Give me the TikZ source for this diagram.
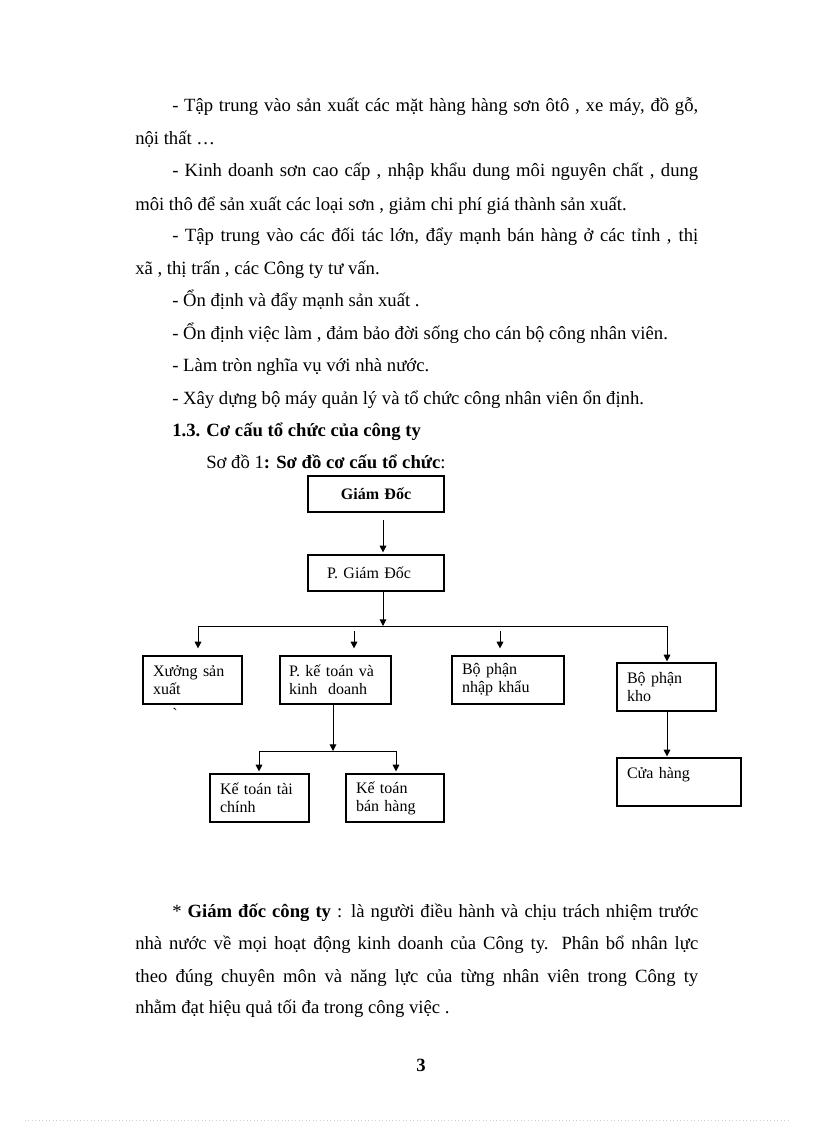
\documentclass[tikz,border=0pt]{standalone}
\usepackage{fontspec}
\setmainfont{Liberation Serif}
\usetikzlibrary{arrows.meta}
\tikzset{
  body/.style={anchor=base west, inner sep=0pt, font=\fontsize{14}{16}\selectfont},
  box/.style={draw, line width=0.9pt, inner ysep=0pt, font=\fontsize{12}{13.5}\selectfont, align=left},
  arr/.style={line width=0.75pt, -{Triangle[length=5pt,width=5pt]}},
  ln/.style={line width=0.75pt},
}
\begin{document}
\begin{tikzpicture}[x=0.75pt,y=-0.75pt]
\useasboundingbox (0,0) rectangle (816,1123);
% ---------- text above ----------
\node[body] (l1) at (172,112) {\hbox to 394.5pt{- Tập trung vào sản xuất các mặt hàng hàng sơn ôtô , xe máy, đồ gỗ,}};
\node[body] (l2) at (135,145) {nội thất …};
\node[body] (l3) at (172,177) {\hbox to 394.5pt{- Kinh doanh sơn cao cấp , nhập khẩu dung môi nguyên chất , dung}};
\node[body] (l4) at (135,210) {môi thô để sản xuất các loại sơn , giảm chi phí giá thành sản xuất.};
\node[body] (l5) at (172,242) {\hbox to 394.5pt{- Tập trung vào các đối tác lớn, đẩy mạnh bán hàng ở các tỉnh , thị}};
\node[body] (l6) at (135,274) {xã , thị trấn , các Công ty tư vấn.};
\node[body] (l7) at (172,306) {- Ổn định và đẩy mạnh sản xuất .};
\node[body] (l8) at (172,339) {- Ổn định việc làm , đảm bảo đời sống cho cán bộ công nhân viên.};
\node[body] (l9) at (172,371) {- Làm tròn nghĩa vụ với nhà nước.};
\node[body] (l10) at (172,404) {- Xây dựng bộ máy quản lý và tổ chức công nhân viên ổn định.};
\node[body] (l11) at (172,436) {\bfseries 1.3. Cơ cấu tổ chức của công ty};
\node[body] (l12) at (206,468) {Sơ đồ 1\textbf{: Sơ đồ cơ cấu tổ chức}:};
% ---------- diagram ----------
\node[box, align=center, inner xsep=7.5pt, text width=87pt, minimum height=27pt, font=\fontsize{12}{13.5}\selectfont\bfseries] (gd) at (376,494) {Giám Đốc};
\node[box, inner xsep=14.25pt, text width=73.5pt, minimum height=27pt] (pgd) at (376,573) {P. Giám Đốc};
\node[box, inner xsep=7.5pt, text width=59.25pt, minimum height=36pt] (xuong) at (192.5,680) {Xưởng sản\\xuất};
\node[box, inner xsep=6.75pt, text width=69.75pt, minimum height=36pt] (pkt) at (335.5,680) {P. kế toán và\\kinh \ doanh};
\node[box, inner xsep=7.5pt, text width=69pt, minimum height=36pt] (nk) at (508,680) {Bộ phận\\nhập khẩu};
\node[box, inner xsep=7.5pt, text width=59.25pt, minimum height=36pt] (kho) at (666.5,687) {Bộ phận\\kho};
\node[box, inner xsep=7.5pt, text width=78pt, minimum height=36pt] (ch) at (679,782) {Cửa hàng\\\mbox{}};
\node[box, inner xsep=7.5pt, text width=59.25pt, minimum height=36pt] (kttc) at (259.5,798) {Kế toán tài\\chính};
\node[box, inner xsep=7.5pt, text width=58.5pt, minimum height=36pt] (ktbh) at (395,798) {Kế toán\\bán hàng};
\node[inner sep=0pt, font=\fontsize{12}{13.5}\selectfont] (mark) at (175,714) {\textasciigrave};
% connectors
\coordinate (t) at (383,0);
\coordinate (bM) at (383,626);
\coordinate (bL) at (198,626);
\coordinate (bR) at (667,626);
\coordinate (a2) at (354,631);
\coordinate (a3) at (500,631);
\coordinate (c1) at (333,751);
\coordinate (cL) at (259,751);
\coordinate (cR) at (396,751);
\draw[arr] ([yshift=-5.25pt]gd.south -| t) -- ([yshift=1.5pt]pgd.north -| t);
\draw[arr] (pgd.south -| t) -- (bM);
\draw[ln] (bL) -- (bR);
\draw[arr] (bL) -- ([yshift=5.25pt]xuong.north -| bL);
\draw[arr] (a2) -- ([yshift=5.25pt]pkt.north -| a2);
\draw[arr] (a3) -- ([yshift=5.25pt]nk.north -| a3);
\draw[arr] (bR) -- ([yshift=0.75pt]kho.north -| bR);
\draw[arr] (kho.south -| bR) -- ([yshift=0.75pt]ch.north -| bR);
\draw[arr] (pkt.south -| c1) -- (c1);
\draw[ln] (cL) -- (cR);
\draw[arr] (cL) -- ([yshift=1.5pt]kttc.north -| cL);
\draw[arr] (cR) -- ([yshift=1.5pt]ktbh.north -| cR);
% ---------- text below ----------
\node[body] (p1) at (172,917) {\hbox to 394.5pt{* \textbf{Giám đốc công ty} : là người điều hành và chịu trách nhiệm trước}};
\node[body] (p2) at (135,949) {\hbox to 422.25pt{nhà nước về mọi hoạt động kinh doanh của Công ty. Phân bổ nhân lực}};
\node[body] (p3) at (135,982) {\hbox to 422.25pt{theo đúng chuyên môn và năng lực của từng nhân viên trong Công ty}};
\node[body] (p4) at (135,1013) {nhằm đạt hiệu quả tối đa trong công việc .};
\node[body, anchor=base] (pg) at (421,1071) {\bfseries 3};
\coordinate (dl) at (25,1120);
\coordinate (dr) at (790,1120);
\draw[dotted, line width=0.6pt, color={rgb,255:red,190;green,215;blue,190}] (dl) -- (dr);
\end{tikzpicture}
\end{document}
